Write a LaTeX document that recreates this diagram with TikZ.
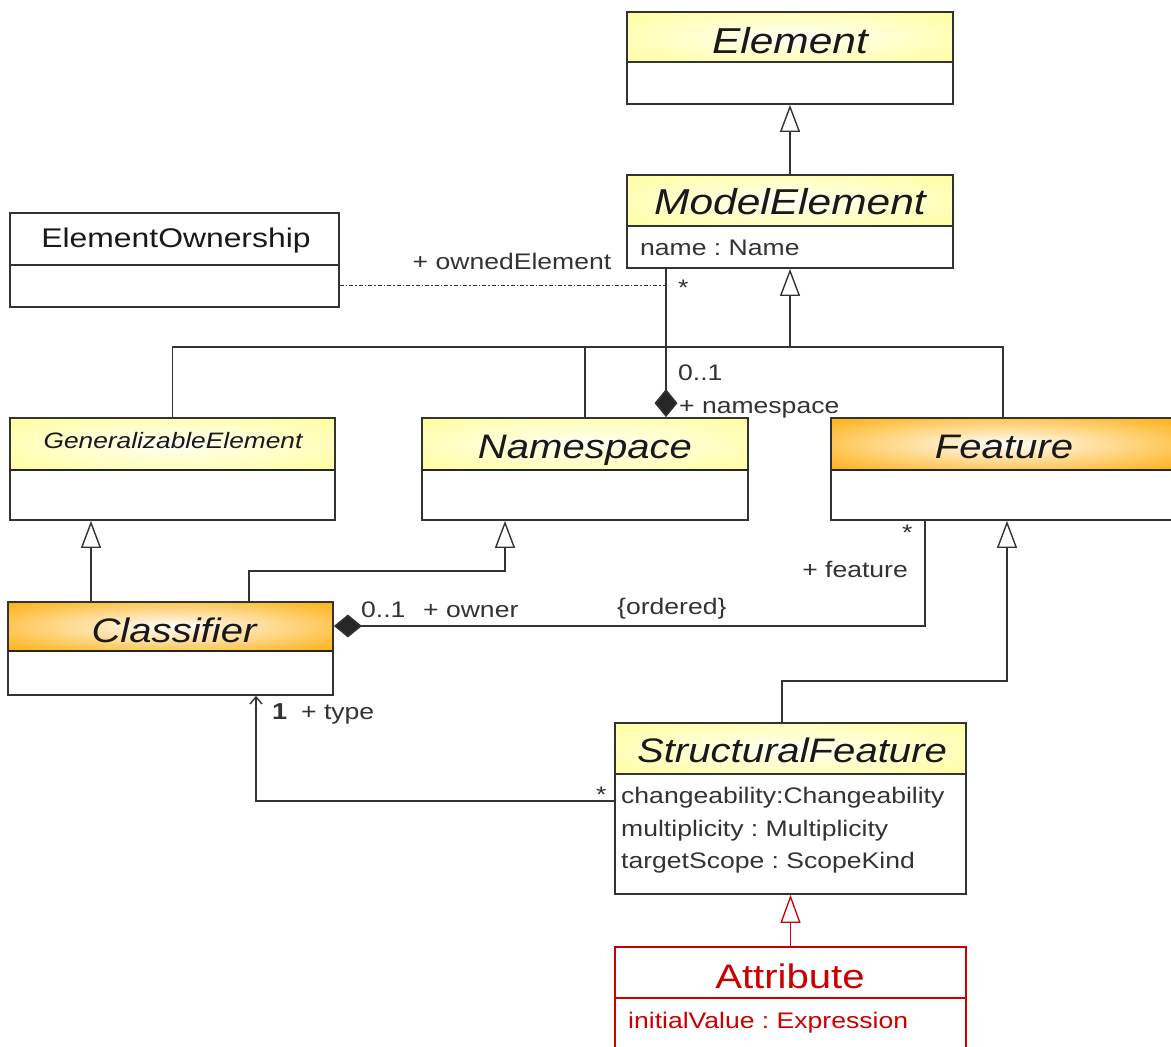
\documentclass[tikz,border=0pt]{standalone}
\usepackage{fontspec}
\setmainfont{Liberation Sans}[FakeStretch=1.18]
\usetikzlibrary{arrows.meta,fit}
\frenchspacing

\definecolor{hdryellow}{HTML}{FFFF99}
\definecolor{hdrorange}{HTML}{FFAA00}
\definecolor{ink}{HTML}{333333}
\definecolor{attrred}{HTML}{CC0000}

% soft white glow in the middle of the class headers
\pgfdeclareradialshading{glowyellow}{\pgfpointorigin}{color(0bp)=(white); color(8bp)=(white!70!hdryellow); color(38bp)=(hdryellow); color(50bp)=(hdryellow)}
\pgfdeclareradialshading{gloworange}{\pgfpointorigin}{color(0bp)=(white); color(9bp)=(white!75!hdrorange); color(38bp)=(hdrorange); color(50bp)=(hdrorange)}

% #1 name, #2 header fill, #3 left, #4 top, #5 right, #6 bottom, #7 header bottom, #8 frame style
\newcommand{\umlbox}[8]{%
  \path[#2] (#3,#4) rectangle (#5,#7);
  \node[boxframe, fit={(#3,#4) (#5,#6)}, #8] (#1) {};
  \draw[boxframe, #8] (#3,#7) -- (#5,#7);
}

\tikzset{
  boxframe/.style={draw=ink, line width=1.8pt, inner sep=0pt},
  thickdiv/.style={draw=black!85, line width=2.6pt},
  hdrY/.style={shading=glowyellow},
  hdrO/.style={shading=gloworange},
  hdrW/.style={fill=white},
  title/.style={font=\fontsize{34}{40}\selectfont\itshape, text=black!90, inner sep=0pt, anchor=base},
  attr/.style={font=\fontsize{22.5}{27}\selectfont, text=ink, inner sep=0pt, anchor=base west},
  lbl/.style={font=\fontsize{22.5}{27}\selectfont, text=ink, inner sep=0pt},
  plain/.style={draw=ink, line width=1.6pt},
  genline/.style={plain, -{Triangle[length=27pt, width=20pt, fill=white, line width=1.4pt]}},
  compline/.style={plain, {Diamond[length=28pt, width=23pt, fill=black!85]}-},
  navline/.style={plain, line width=1.4pt, -{Straight Barb[length=7pt, width=12pt]}},
  dotline/.style={draw=ink, line width=1pt, dash pattern=on 4pt off 2pt on 1.5pt off 2pt},
}

\begin{document}
\begin{tikzpicture}[x=1pt, y=-1pt]
  \path[use as bounding box, fill=white] (0,0) rectangle (1171,1047);

  % classes
  \umlbox{element}{hdrY}{627}{12}{953}{104}{62}{}
  \node[title, font=\fontsize{36}{42}\selectfont\itshape] (elementT) at (790,53) {Element};

  \umlbox{modelelement}{hdrY}{627}{175}{953}{268}{226}{}
  \node[title, font=\fontsize{36}{42}\selectfont\itshape] (modelelementT) at (790,214) {ModelElement};
  \node[attr] (meA) at (640,255) {name : Name};

  \umlbox{eown}{hdrW}{10}{213}{339}{307}{265}{}
  \node[title, font=\fontsize{27}{32}\selectfont] (eownT) at (176,247) {ElementOwnership};

  \umlbox{genel}{hdrY}{10}{418}{335}{520}{470}{}
  \draw[thickdiv] (10,470) -- (335,470);
  \node[title, font=\fontsize{22.3}{27}\selectfont\itshape] (genelT) at (173,448) {GeneralizableElement};

  \umlbox{namespace}{hdrY}{422}{418}{748}{520}{470}{}
  \draw[thickdiv] (422,470) -- (748,470);
  \node[title] (namespaceT) at (585,458) {Namespace};

  \umlbox{feature}{hdrO}{831}{418}{1175}{520}{470}{}
  \draw[thickdiv] (831,470) -- (1175,470);
  \node[title] (featureT) at (1004,458) {Feature};

  \umlbox{classifier}{hdrO}{8}{602}{333}{695}{651}{}
  \draw[thickdiv] (8,651) -- (333,651);
  \node[title] (classifierT) at (174,642) {Classifier};

  \umlbox{sf}{hdrY}{615}{723}{966}{894}{774}{}
  \node[title] (sfT) at (792,762) {StructuralFeature};
  \node[attr] (sfA) at (621,803) {changeability:Changeability};
  \node[attr] (sfB) at (621,836) {multiplicity : Multiplicity};
  \node[attr] (sfC) at (621,868) {targetScope : ScopeKind};

  \umlbox{attribute}{hdrW}{615}{947}{966}{1070}{998}{draw=attrred, line width=1.5pt}
  \node[title, font=\fontsize{34}{40}\selectfont, text=attrred] (attributeT) at (790,988) {Attribute};
  \node[attr, text=attrred] (attrA) at (628,1028) {initialValue : Expression};

  % generalizations
  \draw[genline] (modelelement.north) -- (element.south);

  \coordinate (treejoin) at (790,347);
  \draw[genline] (treejoin) -- (modelelement.south);
  \draw[plain] (genel.north) |- (treejoin) -| (feature.north);
  \draw[plain] (namespace.north) -- (namespace.north |- treejoin);

  \path ([xshift=-79.5pt]classifier.north) coordinate (clsgen);
  \draw[genline] (clsgen) -- (genel.south -| clsgen);

  \path ([xshift=78.5pt]classifier.north) coordinate (clsns)
        ([xshift=-80pt]namespace.south) coordinate (nsgen);
  \draw[genline] (clsns) -- ++(0,-30) -| (nsgen);

  \path ([xshift=-8.5pt]sf.north) coordinate (sfup)
        ([xshift=4pt]feature.south) coordinate (featgen);
  \draw[genline] (sfup) -- ++(0,-41) -| (featgen);

  \draw[genline, draw=attrred, -{Triangle[length=28pt, width=20pt, fill=white, line width=1.3pt]}, line width=1.4pt]
    (attribute.north) -- (sf.south);

  % ownership of model elements, with its association class
  \path ([xshift=-124pt]modelelement.south) coordinate (mecomp);
  \draw[compline] (namespace.north -| mecomp) -- (mecomp);
  \coordinate (ownjoin) at (666,285);
  \draw[dotline] ([yshift=-25pt]eown.east) -- (ownjoin);
  \node[lbl, anchor=base] (ownedL) at (512,269) {+ ownedElement};
  \node[lbl, anchor=base west] (meStar) at (678,295) {*};
  \node[lbl, anchor=base west] (nsMult) at (678,380) {0..1};
  \node[lbl, anchor=base west] (nsRole) at (679,413) {+ namespace};

  % classifier owns its features
  \path ([xshift=-78pt]feature.south) coordinate (featown);
  \draw[compline] ([yshift=22.5pt]classifier.east) -| (featown);
  \node[lbl, anchor=base west] (ownMult) at (361,617) {0..1};
  \node[lbl, anchor=base west] (ownRole) at (423,617) {+ owner};
  \node[lbl, anchor=base west] (ordL) at (617,614) {\{ordered\}};
  \node[lbl, anchor=base east] (featRole) at (908,577) {+ feature};
  \node[lbl, anchor=base west] (featStar) at (902,540) {*};

  % type of a structural feature
  \path ([xshift=85.5pt]classifier.south) coordinate (clstype);
  \draw[navline] ([yshift=7.5pt]sf.west) -| (clstype);
  \node[lbl, anchor=base west] (sfStar) at (596,802) {*};
  \node[lbl, anchor=base west, font=\fontsize{23}{28}\selectfont\bfseries] (typeMult) at (272,719) {1};
  \node[lbl, anchor=base west] (typeRole) at (301,719) {+ type};
\end{tikzpicture}
\end{document}
